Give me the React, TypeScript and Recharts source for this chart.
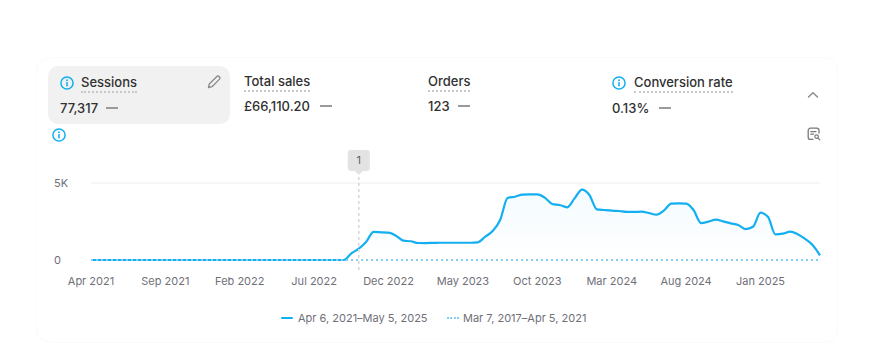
import React from "react";
import { ComposedChart, Area, Line, XAxis, YAxis, ReferenceLine, Legend } from "recharts";

const months = [
  "Apr 2021", "May 2021", "Jun 2021", "Jul 2021", "Aug 2021", "Sep 2021", "Oct 2021", "Nov 2021", "Dec 2021", "Jan 2022",
  "Feb 2022", "Mar 2022", "Apr 2022", "May 2022", "Jun 2022", "Jul 2022", "Aug 2022", "Sep 2022", "Oct 2022", "Nov 2022",
  "Dec 2022", "Jan 2023", "Feb 2023", "Mar 2023", "Apr 2023", "May 2023", "Jun 2023", "Jul 2023", "Aug 2023", "Sep 2023",
  "Oct 2023", "Nov 2023", "Dec 2023", "Jan 2024", "Feb 2024", "Mar 2024", "Apr 2024", "May 2024", "Jun 2024", "Jul 2024",
  "Aug 2024", "Sep 2024", "Oct 2024", "Nov 2024", "Dec 2024", "Jan 2025", "Feb 2025", "Mar 2025", "Apr 2025", "May 2025",
];

// two readings per month: start of the month and mid-month
const currentSessions = [
  0, 0, 0, 0, 0, 0, 0, 0, 0, 0,
  0, 0, 0, 0, 0, 0, 0, 0, 0, 0,
  0, 0, 0, 0, 0, 0, 0, 0, 0, 0,
  0, 0, 0, 0, 0, 430, 735, 1190, 1820, 1800,
  1775, 1580, 1255, 1215, 1105, 1100, 1110, 1120, 1120, 1120,
  1120, 1120, 1150, 1515, 1880, 2600, 4025, 4110, 4240, 4260,
  4260, 4050, 3640, 3570, 3420, 4000, 4570, 4220, 3290, 3245,
  3205, 3180, 3120, 3120, 3140, 3050, 2940, 3200, 3660, 3680,
  3660, 3245, 2400, 2490, 2620, 2510, 2380, 2270, 2010, 2160,
  3070, 2810, 1670, 1710, 1840, 1670, 1365, 975, 305,
];

const previousSessions = [
  0, 0, 0, 0, 0, 0, 0, 0, 0, 0,
  0, 0, 0, 0, 0, 0, 0, 0, 0, 0,
  0, 0, 0, 0, 0, 0, 0, 0, 0, 0,
  0, 0, 0, 0, 0, 0, 0, 0, 0, 0,
  0, 0, 0, 0, 0, 0, 0, 0, 0, 0,
  0, 0, 0, 0, 0, 0, 0, 0, 0, 0,
  0, 0, 0, 0, 0, 0, 0, 0, 0, 0,
  0, 0, 0, 0, 0, 0, 0, 0, 0, 0,
  0, 0, 0, 0, 0, 0, 0, 0, 0, 0,
  0, 0, 0, 0, 0, 0, 0, 0, 0,
];

const yTicks = [0, 5000];
const currentRange = "Apr 6, 2021–May 5, 2025";
const previousRange = "Mar 7, 2017–Apr 5, 2021";
const annotationMonth = "Oct 2022";

const periods = months.flatMap((m, i) => (i < months.length - 1 ? [m, `mid ${m}`] : [m]));

const chartData = periods.map((period, i) => ({
  period,
  current: currentSessions[i],
  previous: previousSessions[i],
}));

const font = "Inter, sans-serif";
const blue = "#13aff0";

const Label = ({ x, y, children }: { x: number; y: number; children: string }) => (
  <div
    style={{
      position: "absolute", left: x, top: y, fontSize: 13, fontWeight: 500, lineHeight: "16px", color: "#303030",
      borderBottom: "2px dotted #c8c8c8", paddingBottom: 1, whiteSpace: "nowrap",
    }}
  >
    {children}
  </div>
);

const Value = ({ x, y, children }: { x: number; y: number; children: string }) => (
  <div style={{ position: "absolute", left: x, top: y, fontSize: 13, fontWeight: 500, lineHeight: "16px", color: "#303030", whiteSpace: "nowrap" }}>
    {children}
  </div>
);

const Dash = ({ x, y }: { x: number; y: number }) => (
  <div style={{ position: "absolute", left: x, top: y, width: 12, height: 2, background: "#9a9a9a" }} />
);

const InfoIcon = ({ x, y }: { x: number; y: number }) => (
  <svg style={{ position: "absolute", left: x, top: y }} width="14" height="14" viewBox="0 0 14 14" fill="none">
    <circle cx="7" cy="7" r="6.1" stroke={blue} strokeWidth="1.5" />
    <rect x="6.2" y="6" width="1.6" height="4.4" rx="0.6" fill={blue} />
    <circle cx="7" cy="4.2" r="0.95" fill={blue} />
  </svg>
);

const YTick = ({ y, payload }: any) => (
  <text x={54} y={y + 4} fontSize={11} fontFamily={font} fill="#6f6f78">
    {payload.value === 0 ? "0" : `${payload.value / 1000}K`}
  </text>
);

const AnnotationBadge = ({ viewBox }: any) => {
  const cx = viewBox.x;
  const top = viewBox.y;
  return (
    <g>
      <path
        d={`M${cx - 8} ${top - 26} h16 a3 3 0 0 1 3 3 v15 a3 3 0 0 1 -3 3 h-4 l-4 4 l-4 -4 h-4 a3 3 0 0 1 -3 -3 v-15 a3 3 0 0 1 3 -3 z`}
        fill="#e3e3e3"
      />
      <text x={cx} y={top - 12} textAnchor="middle" fontSize={11} fontFamily={font} fill="#616161">1</text>
    </g>
  );
};

const ChartLegend = () => (
  <div style={{ position: "relative", height: 16, fontFamily: font, fontSize: 11, lineHeight: "16px", color: "#6f6f78" }}>
    <div style={{ position: "absolute", left: 281, top: 7, width: 12, height: 2, background: blue, borderRadius: 1 }} />
    <span style={{ position: "absolute", left: 298, top: 0, whiteSpace: "nowrap" }}>{currentRange}</span>
    <div style={{ position: "absolute", left: 447, top: 7, width: 12, height: 0, borderTop: "2px dotted #85cff2" }} />
    <span style={{ position: "absolute", left: 463, top: 0, whiteSpace: "nowrap" }}>{previousRange}</span>
  </div>
);

export default function App() {
  return (
    <div style={{ position: "absolute", left: 0, top: 0, width: 884, height: 352, background: "#fff", overflow: "hidden", fontFamily: font }}>
      {/* faint card edge */}
      <div style={{ position: "absolute", left: 36, top: 57, width: 800, height: 284, border: "1px solid #fbfbfb", borderRadius: 14 }} />

      <div style={{ position: "absolute", left: 48, top: 66, width: 182, height: 58, background: "#f1f1f1", borderRadius: 10 }} />
      <InfoIcon x={60} y={76} />
      <Label x={81} y={74}>Sessions</Label>
      <Value x={60} y={100}>77,317</Value>
      <Dash x={106} y={107} />
      <svg style={{ position: "absolute", left: 207, top: 75 }} width="14" height="14" viewBox="0 0 14 14" fill="none">
        <path d="M1.5 12.5 L2.3 9 L9.6 1.7 a1.6 1.6 0 0 1 2.7 2.7 L5 11.7 Z" stroke="#8a8a8a" strokeWidth="1.3" strokeLinejoin="round" />
      </svg>

      <Label x={244} y={73}>Total sales</Label>
      <Value x={244} y={98}>£66,110.20</Value>
      <Dash x={320} y={105} />

      <Label x={428} y={73}>Orders</Label>
      <Value x={428} y={98}>123</Value>
      <Dash x={458} y={105} />

      <InfoIcon x={612} y={76} />
      <Label x={634} y={74}>Conversion rate</Label>
      <Value x={612} y={100}>0.13%</Value>
      <Dash x={659} y={107} />

      <svg style={{ position: "absolute", left: 807, top: 91 }} width="12" height="8" viewBox="0 0 12 8" fill="none">
        <path d="M1.5 6 L6 1.8 L10.5 6" stroke="#8a8a8a" strokeWidth="1.4" strokeLinecap="round" strokeLinejoin="round" />
      </svg>

      <InfoIcon x={52} y={128} />

      <svg style={{ position: "absolute", left: 807, top: 127 }} width="14" height="14" viewBox="0 0 14 14" fill="none">
        <path d="M6 12.4 H3.4 A2.2 2.2 0 0 1 1.2 10.2 V3.4 A2.2 2.2 0 0 1 3.4 1.2 H9.8 A2.2 2.2 0 0 1 12 3.4 V6" stroke="#7a7a7a" strokeWidth="1.3" strokeLinecap="round" />
        <path d="M3.8 4.6 H9 M3.8 7.2 H6.4" stroke="#7a7a7a" strokeWidth="1.3" strokeLinecap="round" />
        <circle cx="9.6" cy="9.6" r="1.8" stroke="#7a7a7a" strokeWidth="1.2" />
        <path d="M11 11 L12.8 12.8" stroke="#7a7a7a" strokeWidth="1.2" strokeLinecap="round" />
      </svg>

      <div style={{ position: "absolute", left: 0, top: 0 }}>
        <ComposedChart width={884} height={352} data={chartData} margin={{ top: 176, right: 64, bottom: 26, left: 51 }}>
          <defs>
            <linearGradient id="sessionsFill" x1="0" y1="0" x2="0" y2="1">
              <stop offset="0%" stopColor={blue} stopOpacity={0.08} />
              <stop offset="100%" stopColor={blue} stopOpacity={0} />
            </linearGradient>
          </defs>
          <XAxis
            dataKey="period"
            axisLine={false}
            tickLine={false}
            interval={9}
            height={30}
            tickMargin={1}
            tick={{ fontSize: 11, fontFamily: font, fill: "#6f6f78" }}
          />
          <YAxis
            width={40}
            domain={[-650, 5455]}
            ticks={yTicks}
            axisLine={false}
            tickLine={false}
            tick={<YTick />}
          />
          <ReferenceLine y={5000} stroke="#f3f3f3" strokeWidth={1.5} />
          <ReferenceLine x={annotationMonth} stroke="#d6d6d6" strokeDasharray="3 3" strokeWidth={1.5} label={<AnnotationBadge />} />
          <Line
            type="monotone"
            dataKey="previous"
            name={previousRange}
            stroke="#85cff2"
            strokeWidth={2}
            strokeDasharray="2 3"
            dot={false}
            activeDot={false}
            isAnimationActive={false}
          />
          <Area
            type="monotone"
            dataKey="current"
            name={currentRange}
            stroke={blue}
            strokeWidth={2.2}
            fill="url(#sessionsFill)"
            dot={false}
            activeDot={false}
            isAnimationActive={false}
          />
          <Legend
            content={<ChartLegend />}
            verticalAlign="bottom"
            wrapperStyle={{ left: 0, width: 884, height: 26, top: 310 }}
          />
        </ComposedChart>
      </div>
    </div>
  );
}
